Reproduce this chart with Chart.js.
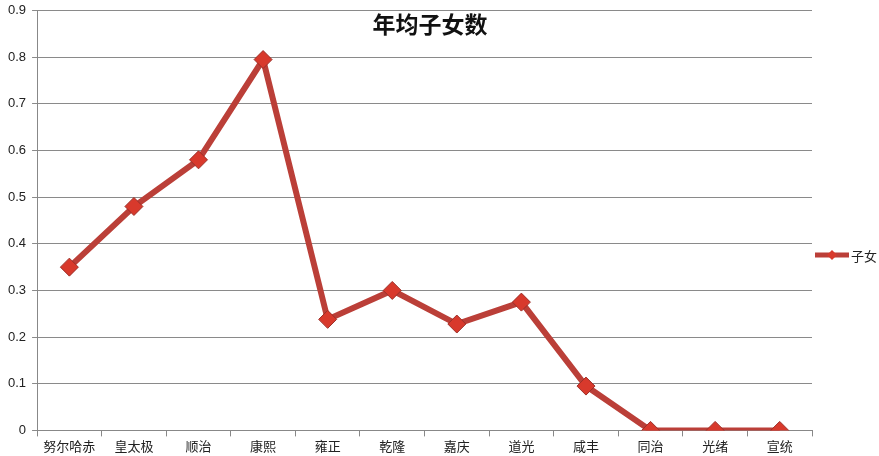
<!DOCTYPE html>
<html>
<head>
<meta charset="utf-8">
<script src="https://cdn.jsdelivr.net/npm/chart.js@4/dist/chart.umd.min.js"></script>
<style>
  html, body { margin: 0; padding: 0; background: #fff; }
  #wrap { position: relative; width: 879px; height: 456px; }
  #title {
    position: absolute; left: 330px; top: 6px; width: 200px; text-align: center;
    font: bold 23px "Noto Sans CJK SC", sans-serif; color: #111; margin: 0;
  }
  #legend {
    position: absolute; left: 815px; top: 245px; height: 20px;
    display: flex; align-items: center; gap: 2px;
    font: 13px "Noto Sans CJK SC", sans-serif; color: #222;
  }
</style>
</head>
<body>
<div id="wrap">
  <canvas id="c" width="879" height="456"></canvas>
  <div id="title">年均子女数</div>
  <div id="legend"><canvas id="legendIcon" width="34" height="16"></canvas><span id="legendText"></span></div>
</div>
<script>
const emperors = ['努尔哈赤', '皇太极', '顺治', '康熙', '雍正', '乾隆', '嘉庆', '道光', '咸丰', '同治', '光绪', '宣统']
const children = [0.35, 0.48, 0.58, 0.795, 0.238, 0.30, 0.228, 0.275, 0.095, 0, 0, 0]
const seriesName = '子女'

const lineColor = '#bb3f38'
const markFill = '#d8392c'

// легенда: линия с ромбом
document.getElementById('legendText').textContent = seriesName
{
  const g = document.getElementById('legendIcon').getContext('2d')
  g.strokeStyle = lineColor
  g.lineWidth = 5
  g.beginPath(); g.moveTo(0, 8); g.lineTo(34, 8); g.stroke()
  g.fillStyle = markFill
  g.beginPath(); g.moveTo(17, 3); g.lineTo(22, 8); g.lineTo(17, 13); g.lineTo(12, 8); g.closePath(); g.fill()
}

new Chart(document.getElementById('c'), {
  type: 'line',
  data: {
    labels: emperors,
    datasets: [{
      label: seriesName,
      data: children,
      borderColor: lineColor,
      borderWidth: 6,
      pointStyle: 'rectRot',
      pointRadius: 9,
      pointBackgroundColor: markFill,
      pointBorderColor: '#9c2f28',
      pointBorderWidth: 1,
      tension: 0,
    }],
  },
  options: {
    responsive: false,
    animation: false,
    layout: { padding: { top: 0, right: 67, left: 2, bottom: 0 } },
    plugins: {
      title: { display: false },
      tooltip: { enabled: false },
      legend: { display: false },
    },
    scales: {
      x: {
        offset: true,
        grid: { offset: true, drawOnChartArea: false, drawTicks: true, tickLength: 6, color: '#888' },
        border: { color: '#888' },
        ticks: { color: '#222', padding: 2, maxRotation: 0, font: { family: '"Noto Sans CJK SC", sans-serif', size: 13 } },
      },
      y: {
        min: 0,
        max: 0.9,
        ticks: { stepSize: 0.1, color: '#222', padding: 6, font: { family: '"Liberation Sans", sans-serif', size: 13, lineHeight: 0.7 } },
        grid: { color: '#8a8a8a', tickLength: 5 },
        border: { color: '#888' },
      },
    },
  },
})
</script>
</body>
</html>
